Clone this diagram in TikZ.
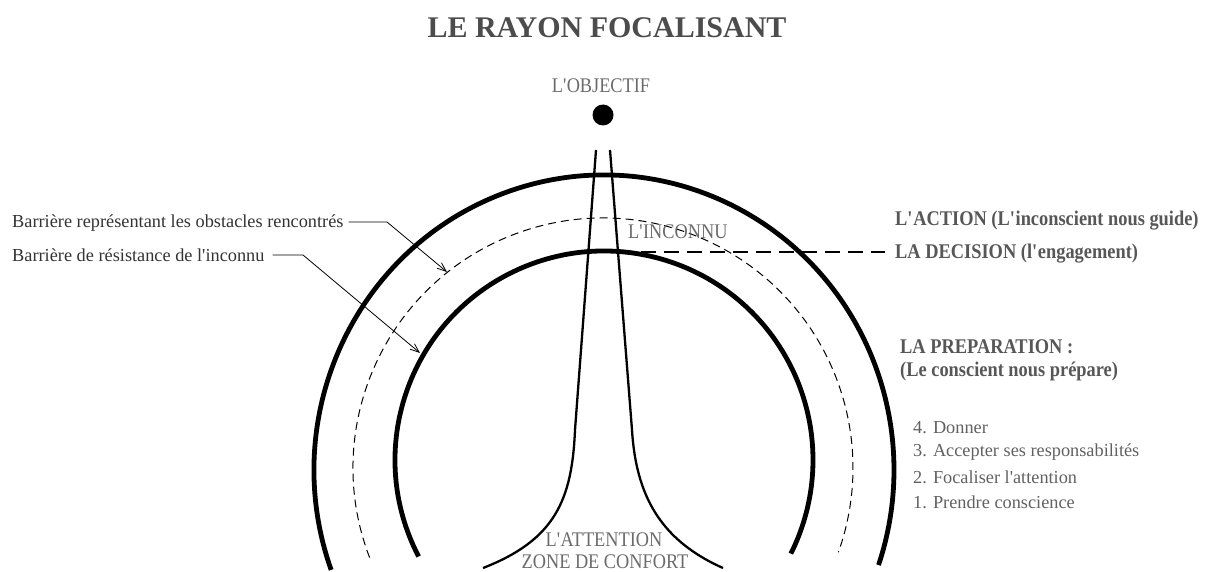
\documentclass[tikz,border=0pt]{standalone}
\usepackage{fontspec}
\setmainfont{Liberation Serif}
\newfontfamily\condfont[FakeStretch=0.88]{Liberation Serif}
\usetikzlibrary{arrows.meta,calc}
\newcommand\apos{\textquotesingle}
\begin{document}
\begin{tikzpicture}[x=1pt,y=-1pt,
  lab/.style={inner sep=0pt, anchor=base west, font=\fontsize{18.3}{20}\selectfont, text=black!80},
  listlab/.style={lab, text=black!62},
  capslab/.style={inner sep=0pt, anchor=base, font=\condfont\fontsize{20.8}{22}\selectfont, text=black!58},
  boldlab/.style={inner sep=0pt, anchor=base west, font=\condfont\bfseries\fontsize{20.9}{22}\selectfont, text=black!66},
  titlelab/.style={inner sep=0pt, anchor=base, font=\bfseries\fontsize{30}{32}\selectfont, text=black!70},
  barrier/.style={line width=4.8pt},
  ray/.style={line width=2.3pt, line join=round},
  dasharc/.style={line width=1pt, dash pattern=on 8pt off 5pt},
  decdash/.style={line width=1.3pt, dash pattern=on 15pt off 8pt},
  leader/.style={line width=0.8pt, -{Straight Barb[length=9pt,width=7pt]}},
]
\useasboundingbox (0,0) rectangle (1209,572);

% title and goal
\node[titlelab] (title) at (607,38) {LE RAYON FOCALISANT};
\node[capslab] (objectif) at (601,93) {L\apos OBJECTIF};
\node[circle, fill=black, minimum size=21pt, inner sep=0pt] (goal) at (603,115) {};

% barriers
\draw[barrier] (604,470) ++(160.2:290 and 295)
  arc[start angle=160.2, end angle=378.8, x radius=290, y radius=295];
\draw[dasharc] (603,468) ++(159:250)
  arc[start angle=159, end angle=379.7, radius=250];
\draw[barrier] (604,460) ++(152.5:209)
  arc[start angle=152.5, end angle=386.6, radius=209];

% focusing ray
\draw[ray] (596,150) -- (575,430) .. controls (572,500) and (555,540) .. (483,568);
\draw[ray] (610,150) -- (632,430) .. controls (636,495) and (660,540) .. (723,568);

% inner labels
\node[capslab, anchor=base west] (inconnu) at (628,238) {L\apos INCONNU};
\node[capslab] (attention) at (604,546) {L\apos ATTENTION};
\node[capslab] (confort) at (605,568) {ZONE DE CONFORT};

% left labels with leaders
\node[lab] (lab1) at (12,227) {Barrière représentant les obstacles rencontrés};
\node[lab] (lab2) at (12,261) {Barrière de résistance de l\apos inconnu};
\coordinate (b1) at (387,222);
\coordinate (t1) at (447,272);
\coordinate (b2) at (303,255);
\coordinate (t2) at (420,353);
\draw[leader] ($(b1 -| lab1.east)+(5,0)$) -- (b1) -- (t1);
\draw[leader] ($(b2 -| lab2.east)+(8,0)$) -- (b2) -- (t2);

% right labels
\node[boldlab] (action) at (895,225) {L\apos ACTION (L\apos inconscient nous guide)};
\node[boldlab] (decision) at (895,258) {LA DECISION (l\apos engagement)};
\coordinate (d0) at (641,252);
\draw[decdash] (d0) -- ($(d0 -| decision.west)+(-10,0)$);
\node[boldlab] (prep) at (900,353) {LA PREPARATION :};
\node[boldlab] (prep2) at (900,376) {(Le conscient nous prépare)};

% steps
\node[listlab] (s4) at (913,433) {4. Donner};
\node[listlab] (s3) at (913,456) {3. Accepter ses responsabilités};
\node[listlab] (s2) at (913,483) {2. Focaliser l\apos attention};
\node[listlab] (s1) at (913,508) {1. Prendre conscience};
\end{tikzpicture}
\end{document}
